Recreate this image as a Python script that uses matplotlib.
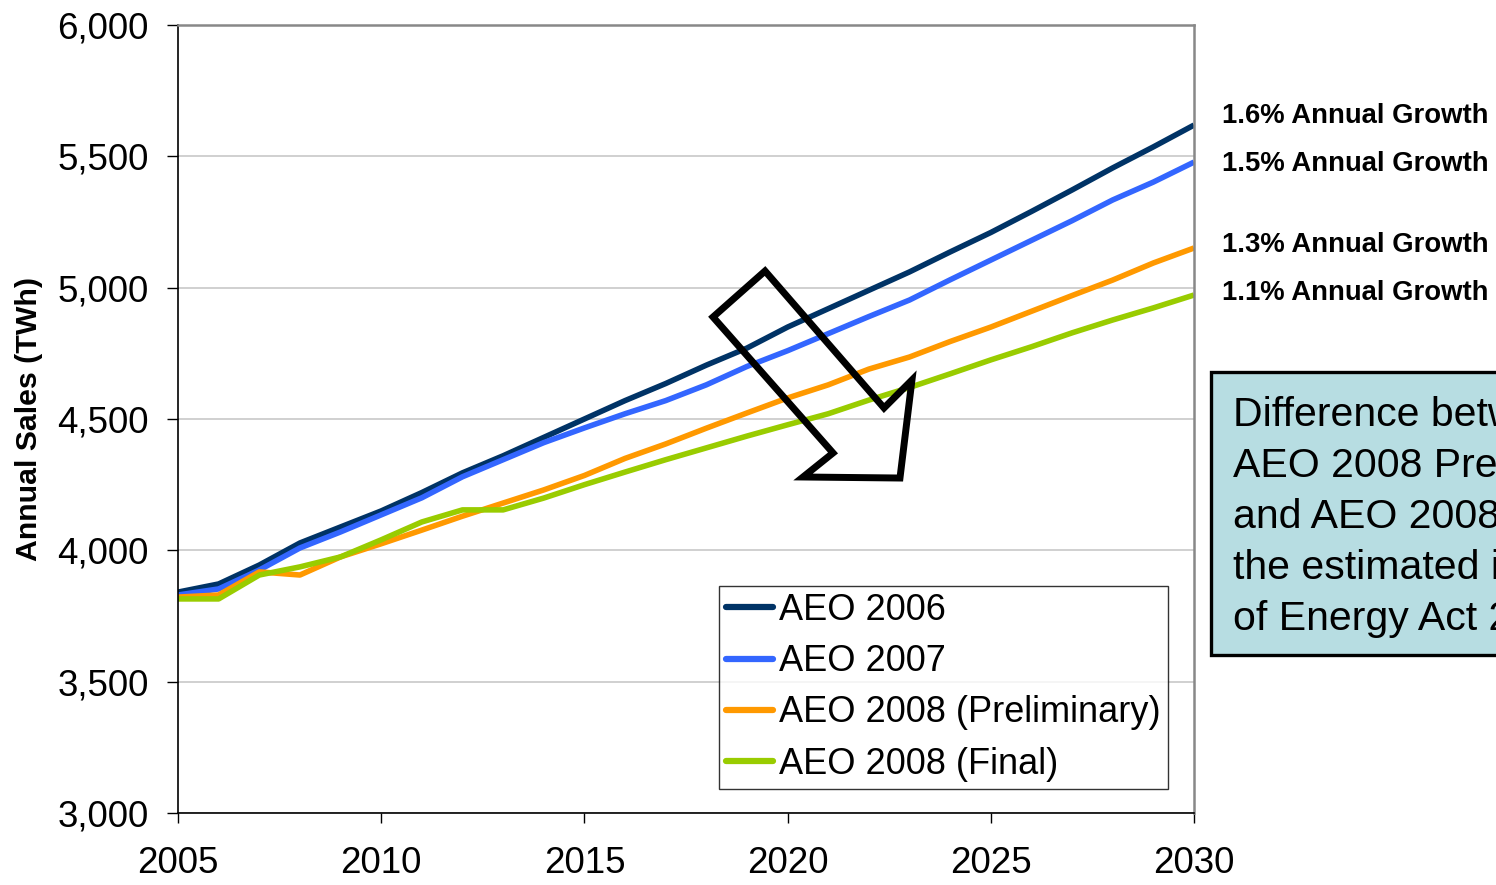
import numpy as np
import matplotlib
matplotlib.use("Agg")
from matplotlib import pyplot as plt
from matplotlib.patches import Polygon, Rectangle

plt.rcParams['font.family'] = ['Liberation Sans', 'DejaVu Sans']

years = np.arange(2005, 2031)

aeo2006 = [3841, 3872, 3944, 4028, 4089, 4150, 4220, 4295, 4360, 4430,
           4500, 4570, 4635, 4705, 4770, 4850, 4920, 4990, 5060, 5136,
           5210, 5290, 5372, 5456, 5536, 5619]
aeo2007 = [3830, 3853, 3925, 4009, 4070, 4135, 4200, 4280, 4345, 4410,
           4466, 4520, 4570, 4630, 4700, 4760, 4825, 4890, 4953, 5030,
           5105, 5180, 5255, 5334, 5402, 5478]
aeo2008_pre = [3822, 3830, 3918, 3906, 3975, 4025, 4077, 4130, 4180, 4230,
               4285, 4350, 4405, 4465, 4523, 4580, 4630, 4690, 4736, 4795,
               4850, 4910, 4970, 5029, 5094, 5151]
aeo2008_fin = [3815, 3815, 3906, 3937, 3975, 4040, 4108, 4154, 4154, 4199,
               4250, 4298, 4345, 4390, 4435, 4478, 4520, 4572, 4620, 4672,
               4725, 4775, 4828, 4877, 4923, 4972]

labels = ["AEO 2006", "AEO 2007", "AEO 2008 (Preliminary)", "AEO 2008 (Final)"]
colors = ["#003366", "#3366FF", "#FF9900", "#99CC00"]
growth = ["1.6% Annual Growth", "1.5% Annual Growth",
          "1.3% Annual Growth", "1.1% Annual Growth"]
note = ("Difference between\nAEO 2008 Preliminary\nand AEO 2008 Final is\n"
        "the estimated impact\nof Energy Act 2007")

W, H = 1496, 885
fig = plt.figure(figsize=(W / 100, H / 100), dpi=100)
ax = fig.add_axes([178 / W, 1 - 813 / H, (1194 - 178) / W, (813 - 25) / H])

for vals, lab, c in zip([aeo2006, aeo2007, aeo2008_pre, aeo2008_fin], labels, colors):
    ax.plot(years, vals, color=c, lw=4.0, label=lab, solid_capstyle="butt")

ax.set_xlim(2005, 2030)
ax.set_ylim(3000, 6000)
ax.set_xticks(np.arange(2005, 2031, 5))
ax.set_yticks(np.arange(3000, 6001, 500))
ax.yaxis.set_major_formatter(matplotlib.ticker.FuncFormatter(lambda v, p: f"{v:,.0f}"))
ax.grid(axis="y", color="#C8C8C8", lw=1.2)
ax.set_axisbelow(True)
ax.tick_params(axis="y", direction="out", length=8, width=1, labelsize=26.5, pad=13)
ax.tick_params(axis="x", direction="out", length=7, width=1, labelsize=26.5, pad=17)
for s in ["left", "bottom"]:
    ax.spines[s].set_color("black")
    ax.spines[s].set_linewidth(1.2)
for s in ["top", "right"]:
    ax.spines[s].set_color("#888888")
    ax.spines[s].set_linewidth(1.8)
ax.set_ylabel("Annual Sales (TWh)", fontsize=21.8, fontweight="bold", labelpad=10)

leg = ax.legend(loc="lower right", bbox_to_anchor=(0.9744, 0.0305), fontsize=26,
                frameon=True, fancybox=False, borderaxespad=0, handlelength=1.3,
                handletextpad=0.17, labelspacing=0.45, borderpad=0.2)
leg.get_frame().set_edgecolor("black")
leg.get_frame().set_linewidth(1.0)
for h in leg.get_lines():
    h.set_linewidth(4.5)
    h.set_solid_capstyle("round")

# hollow arrow
arrow_pts = [(0.5266, 0.6294), (0.5778, 0.6878), (0.6949, 0.5140), (0.7224, 0.5495),
             (0.7106, 0.4251), (0.6152, 0.4264), (0.6447, 0.4569)]
ax.add_patch(Polygon(arrow_pts, closed=True, fill=False, edgecolor="black",
                     lw=5, transform=ax.transAxes, zorder=5, joinstyle="miter"))

# growth labels
for g, ypx in zip(growth, [116, 164, 245, 293]):
    fig.text(1222 / W, 1 - ypx / H, g, fontsize=19.8, fontweight="bold",
             ha="left", va="center")

# note box (text runs past the right edge, as in the original slide)
fig.patches.append(Rectangle((1211 / W, 1 - 655 / H), 0.3, (655 - 372) / H,
                             transform=fig.transFigure, facecolor="#B7DDE2",
                             edgecolor="black", lw=2.4))
fig.text(1233 / W, 1 - 517 / H, note, fontsize=29.5, ha="left", va="center",
         linespacing=1.44)

fig.savefig("out.png", dpi=100)
